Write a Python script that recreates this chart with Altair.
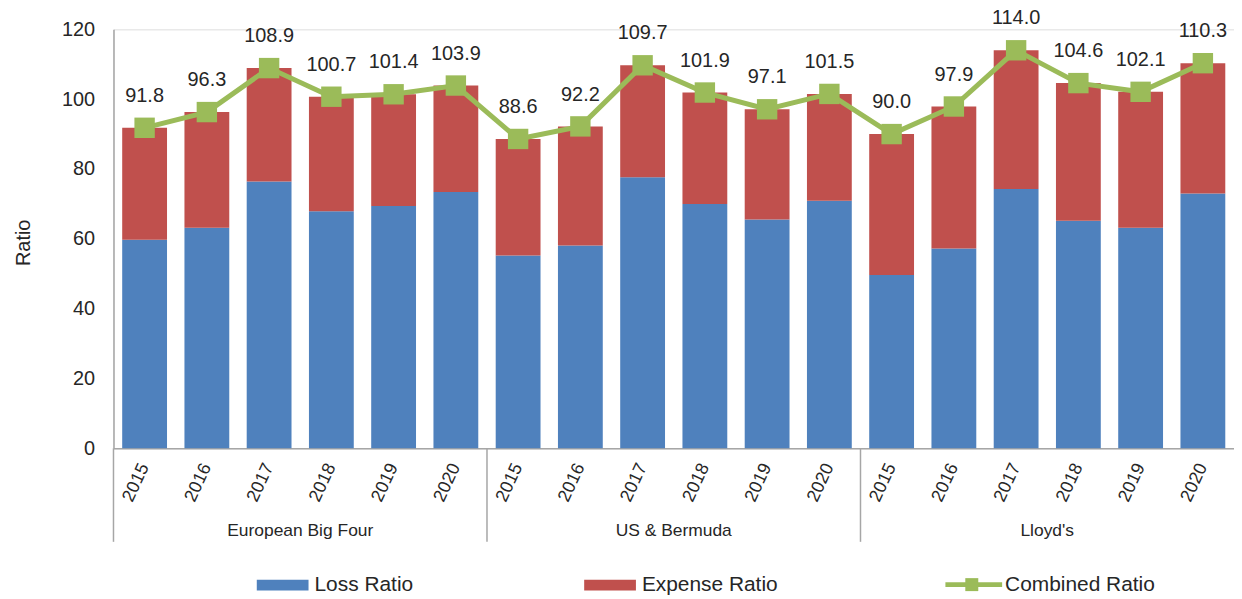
import altair as alt
import pandas as pd

groups = ["European Big Four", "US & Bermuda", "Lloyd's"]
years = ["2015", "2016", "2017", "2018", "2019", "2020"]
combined_ratio = [91.8, 96.3, 108.9, 100.7, 101.4, 103.9,
                  88.6, 92.2, 109.7, 101.9, 97.1, 101.5,
                  90.0, 97.9, 114.0, 104.6, 102.1, 110.3]
loss_ratio = [59.7, 63.2, 76.4, 67.9, 69.4, 73.4,
              55.2, 58.1, 77.6, 70.0, 65.5, 70.9,
              49.6, 57.2, 74.3, 65.2, 63.2, 73.0]
legend_labels = ["Loss Ratio", "Expense Ratio", "Combined Ratio"]
y_title = "Ratio"

BLUE = "#4F81BD"
RED = "#C0504D"
GREEN = "#9BBB59"
TXT = "#262626"
GRAY = "#A6A6A6"
FONT = "Liberation Sans"

W, H = 1126, 421
N = len(groups) * len(years)
STEP = W / N

rows = []
i = 0
for g in groups:
    for y in years:
        rows.append({"idx": i, "group": g, "year": y, "key": f"{g}|{y}",
                     "loss": loss_ratio[i], "combined": combined_ratio[i],
                     "label": f"{combined_ratio[i]:.1f}"})
        i += 1
df = pd.DataFrame(rows)
keys = list(df["key"])

xscale = alt.Scale(domain=keys, paddingInner=0.28, paddingOuter=0.14)
xenc = alt.X("key:N", scale=xscale, sort=keys,
             axis=alt.Axis(title=None, labelExpr="split(datum.label, '|')[1]",
                           labelAngle=-65, labelFontSize=18, labelColor=TXT,
                           labelPadding=16, ticks=False, domainColor=GRAY,
                           domainWidth=1.5, labelFont=FONT))
yscale = alt.Scale(domain=[0, 120], nice=False, zero=True)

base = alt.Chart(df)

loss_bar = base.mark_bar(color=BLUE).encode(
    x=xenc,
    y=alt.Y("loss:Q", scale=yscale,
            axis=alt.Axis(title=y_title, values=[0, 20, 40, 60, 80, 100, 120],
                          grid=False, ticks=False, labelFontSize=20,
                          labelColor=TXT, labelPadding=19, domainColor=GRAY,
                          domainWidth=1.5, titleFontSize=20, titleColor=TXT,
                          titleFontWeight="normal", titleAngle=-90,
                          titleX=-90, titleY=214, titleAlign="center",
                          titleBaseline="middle", labelFont=FONT, titleFont=FONT)),
)
exp_bar = base.mark_bar(color=RED).encode(
    x=alt.X("key:N", scale=xscale, sort=keys),
    y=alt.Y("loss:Q", scale=yscale),
    y2="combined:Q",
)
line = base.mark_line(color=GREEN, strokeWidth=5).encode(
    x=alt.X("key:N", scale=xscale, sort=keys),
    y=alt.Y("combined:Q", scale=yscale),
    order="idx:Q",
)
pts = base.mark_square(color=GREEN, size=420, opacity=1).encode(
    x=alt.X("key:N", scale=xscale, sort=keys),
    y=alt.Y("combined:Q", scale=yscale),
)
labels = base.mark_text(dy=-32, fontSize=20, color=TXT, font=FONT).encode(
    x=alt.X("key:N", scale=xscale, sort=keys),
    y=alt.Y("combined:Q", scale=yscale),
    text="label:N",
)

first_df = df[df["year"] == years[0]]
seps = alt.Chart(first_df).mark_rule(color=GRAY, strokeWidth=1.5, xOffset=-STEP / 2).encode(
    x=alt.X("key:N", scale=xscale, sort=keys),
    y=alt.value(H),
    y2=alt.value(H + 94),
)
mid_df = df[df["year"] == years[3]]
glabels = alt.Chart(mid_df).mark_text(fontSize=17.5, color=TXT, font=FONT,
                                       xOffset=-STEP / 2, baseline="middle").encode(
    x=alt.X("key:N", scale=xscale, sort=keys),
    y=alt.value(H + 83),
    text="group:N",
)

def one(lbl):
    return alt.Chart(pd.DataFrame({"label": [lbl]}))

LY = 558
leg = [
    one(legend_labels[0]).mark_rect(color=BLUE).encode(
        x=alt.value(144), x2=alt.value(196), y=alt.value(LY - 5), y2=alt.value(LY + 6)),
    one(legend_labels[0]).mark_text(align="left", baseline="middle", fontSize=21,
                                    color=TXT, font=FONT).encode(
        x=alt.value(202), y=alt.value(LY), text="label:N"),
    one(legend_labels[1]).mark_rect(color=RED).encode(
        x=alt.value(473), x2=alt.value(525), y=alt.value(LY - 5), y2=alt.value(LY + 6)),
    one(legend_labels[1]).mark_text(align="left", baseline="middle", fontSize=21,
                                    color=TXT, font=FONT).encode(
        x=alt.value(531), y=alt.value(LY), text="label:N"),
    one(legend_labels[2]).mark_rule(color=GREEN, strokeWidth=5).encode(
        x=alt.value(836), x2=alt.value(893), y=alt.value(LY)),
    one(legend_labels[2]).mark_square(color=GREEN, size=170, opacity=1).encode(
        x=alt.value(862.5), y=alt.value(LY)),
    one(legend_labels[2]).mark_text(align="left", baseline="middle", fontSize=21,
                                    color=TXT, font=FONT).encode(
        x=alt.value(896), y=alt.value(LY), text="label:N"),
]

chart = alt.layer(loss_bar, exp_bar, line, pts, labels, seps, glabels, *leg).properties(
    width=W, height=H,
    autosize=alt.AutoSizeParams(type="none"),
    padding={"left": 106, "top": 20, "right": 0, "bottom": 148},
    background="white",
).configure_view(stroke=None).configure(font=FONT)

chart.save("out.html", embed_options={"renderer": "svg", "actions": False})
